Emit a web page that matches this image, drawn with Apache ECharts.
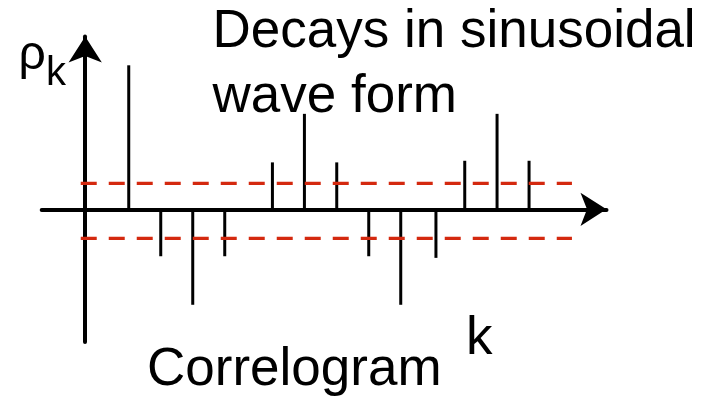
<!DOCTYPE html>
<html><head><meta charset="utf-8">
<script src="https://cdn.jsdelivr.net/npm/echarts@6/dist/echarts.min.js"></script>
<style>html,body{margin:0;padding:0;background:#fff}#chart{width:706px;height:399px}</style>
</head><body><div id="chart"></div>
<script>
// lag positions (k) and autocorrelations (rho_k)
const lags = [1.36, 2.36, 3.36, 4.36, 5.85, 6.85, 7.86, 8.86, 9.86, 10.96, 11.86, 12.87, 13.87];
const rho  = [0.89, -0.29, -0.59, -0.29, 0.29, 0.59, 0.29, -0.29, -0.59, -0.30, 0.30, 0.59, 0.30];
const upperBand = 0.16;
const lowerBand = -0.18;
const bandRange = [-0.14, 15.21];
const xRange = [-1.36, 16.29];
const yRange = [-0.82, 1.068];
const titleLines = ['Decays in sinusoidal', 'wave form'];
const xName = 'k';
const yName = 'ρ';
const ySub = 'k';
const caption = 'Correlogram';

const FONT = "'Liberation Sans', Arial, sans-serif";
const chart = echarts.init(document.getElementById('chart'), null, {renderer: 'canvas'});

const axisCommon = {
  axisLine: {onZero: true, lineStyle: {color: '#000', width: 4}, symbol: ['none', 'arrow'], symbolSize: [25, 26]},
  axisTick: {show: false}, axisLabel: {show: false}, splitLine: {show: false}
};
const bandStyle = {color: '#d4290f', width: 3.3, type: [16, 12]};

function txt(text, x, y, size) {
  return {type: 'text', x: x, y: y, z: 100,
    style: {text: text, fill: '#000', font: size + 'px ' + FONT, align: 'left', verticalAlign: 'middle'}};
}

chart.setOption({
  animation: false,
  backgroundColor: '#fff',
  grid: {left: 41.7, right: 99.5, top: 36.5, bottom: 57, containLabel: false},
  xAxis: Object.assign({type: 'value', min: xRange[0], max: xRange[1]}, axisCommon),
  yAxis: Object.assign({type: 'value', min: yRange[0], max: yRange[1]}, axisCommon),
  series: [
    {type: 'bar', barWidth: 3, itemStyle: {color: '#000'},
     data: lags.map((x, i) => [x, rho[i]])},
    {type: 'line', symbol: 'none', lineStyle: bandStyle,
     data: [[bandRange[0], upperBand], [bandRange[1], upperBand]]},
    {type: 'line', symbol: 'none', lineStyle: bandStyle,
     data: [[bandRange[0], lowerBand], [bandRange[1], lowerBand]]}
  ],
  graphic: [
    txt(titleLines[0], 212.5, 32.6, 53),
    txt(titleLines[1], 212.5, 97.6, 53),
    txt(caption, 147, 370.6, 53),
    txt(xName, 466, 339.1, 53),
    txt(yName, 18.5, 55.4, 48),
    txt(ySub, 46, 73.5, 40)
  ]
});
</script>
</body></html>
